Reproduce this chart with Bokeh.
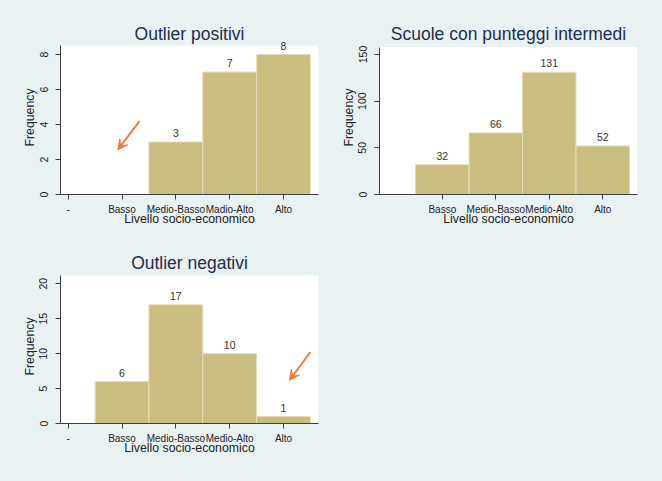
from bokeh.plotting import figure
from bokeh.layouts import column, row
from bokeh.models import (Arrow, VeeHead, FixedTicker, ColumnDataSource, Spacer,
                          LabelSet, BoxAnnotation)
from bokeh.core.properties import value
from bokeh.embed import file_html
from bokeh.resources import INLINE

# ---- data ----
tick_labels_pos = ["-", "Basso", "Medio-Basso", "Madio-Alto", "Alto"]
tick_labels_mid = ["Basso", "Medio-Basso", "Medio-Alto", "Alto"]
tick_labels_neg = ["-", "Basso", "Medio-Basso", "Medio-Alto", "Alto"]

pos_x = [2, 3, 4]
pos_counts = [3, 7, 8]

mid_x = [1, 2, 3, 4]
mid_counts = [32, 66, 131, 52]

neg_x = [1, 2, 3, 4]
neg_counts = [6, 17, 10, 1]

pos_yticks = [0, 2, 4, 6, 8]
mid_yticks = [0, 50, 100, 150]
neg_yticks = [0, 5, 10, 15, 20]

BG = "#e9f1f3"
BAR = "#c9be80"
NAVY = "#1f2d4d"
AX = "#3f3f3f"
ORANGE = "#ef7b37"
FONT = "Liberation Sans"


def panel(title, xs, counts, labels, tick_vals, y_ticks, y_white, y_ext, x_start,
          w, h, left, right, top, bottom):
    p = figure(width=w, height=h, output_backend="svg", toolbar_location=None,
               x_range=(x_start, 4.65), y_range=(0, y_ext),
               min_border_left=left, min_border_right=right,
               min_border_top=top, min_border_bottom=bottom)
    p.background_fill_color = BG
    p.border_fill_color = BG
    p.outline_line_color = None
    p.add_layout(BoxAnnotation(bottom=0, top=y_white, fill_color="white", fill_alpha=1.0,
                               line_color=None, level="underlay"))
    p.title.text = title
    p.title.align = "center"
    p.title.text_font = FONT
    p.title.text_font_size = "17.5px"
    p.title.text_font_style = "normal"
    p.title.text_color = NAVY
    p.title.standoff = -6

    src = ColumnDataSource(dict(x=xs, top=counts, lab=[str(c) for c in counts]))
    p.vbar(x="x", top="top", width=1.0, bottom=0, source=src,
           fill_color=BAR, line_color="#e4ddb8", line_width=1)
    p.add_layout(LabelSet(x="x", y="top", text="lab", source=src, text_align="center",
                          text_baseline="bottom", y_offset=5, text_font=value(FONT),
                          text_font_size="10.5px", text_color="#333333"))

    p.xaxis.ticker = FixedTicker(ticks=tick_vals)
    p.xaxis.major_label_overrides = {v: l for v, l in zip(tick_vals, labels)}
    p.yaxis.ticker = FixedTicker(ticks=y_ticks)
    p.yaxis.bounds = (0, y_white)
    p.yaxis.major_label_orientation = "vertical"
    p.xaxis.axis_label = "Livello socio-economico"
    p.yaxis.axis_label = "Frequency"
    for ax in (p.xaxis, p.yaxis):
        ax.axis_line_color = AX
        ax.major_tick_line_color = AX
        ax.minor_tick_line_color = None
        ax.major_tick_in = 0
        ax.major_tick_out = 5
        ax.major_label_text_font = FONT
        ax.major_label_text_font_size = "10px"
        ax.major_label_text_color = "#222222"
        ax.axis_label_text_font = FONT
        ax.axis_label_text_font_size = "12.3px"
        ax.axis_label_text_font_style = "normal"
        ax.axis_label_text_color = "#222222"
    p.yaxis.major_label_text_font_size = "10.5px"
    p.xaxis.major_label_standoff = 4
    p.xaxis.axis_label_standoff = -6
    p.yaxis.major_label_standoff = 8
    p.yaxis.axis_label_standoff = 0
    p.xgrid.grid_line_color = None
    p.ygrid.grid_line_color = "#ececec"
    p.ygrid.ticker = FixedTicker(ticks=y_ticks)
    return p


p1 = panel("Outlier positivi", pos_x, pos_counts, tick_labels_pos, [0, 1, 2, 3, 4],
           pos_yticks, 8.51, 8.8, -0.143, 331, 240, 60, 13, 40, 46)
p1.add_layout(Arrow(end=VeeHead(size=10, fill_color=ORANGE, line_color=ORANGE),
                    x_start=1.325, y_start=4.19, x_end=0.92, y_end=2.55,
                    line_color=ORANGE, line_width=2))

p2 = panel("Scuole con punteggi intermedi", mid_x, mid_counts, tick_labels_mid, [1, 2, 3, 4],
           mid_yticks, 158, 165, -0.175, 331, 240, 48, 25, 40, 46)

p3 = panel("Outlier negativi", neg_x, neg_counts, tick_labels_neg, [0, 1, 2, 3, 4],
           neg_yticks, 21.19, 22.04, -0.143, 331, 241, 60, 13, 29, 58)
p3.add_layout(Arrow(end=VeeHead(size=10, fill_color=ORANGE, line_color=ORANGE),
                    x_start=4.50, y_start=10.23, x_end=4.11, y_end=6.19,
                    line_color=ORANGE, line_width=2))

sp = Spacer(width=331, height=241, styles={"background-color": BG})
layout = column(row(p1, p2), row(p3, sp), styles={"background-color": BG})

open("out.html", "w").write(file_html(layout, INLINE))
